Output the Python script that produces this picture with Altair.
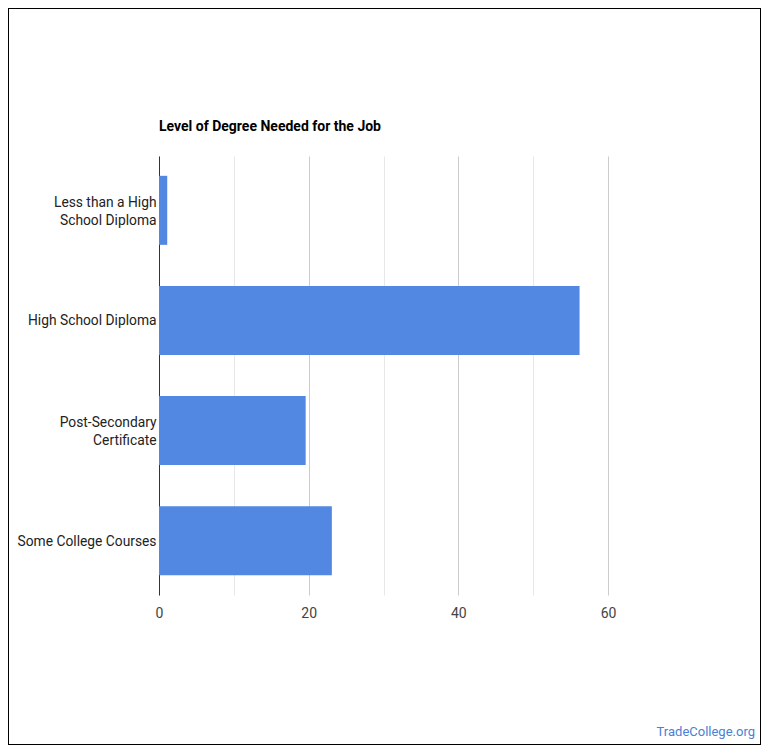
import altair as alt
import pandas as pd

categories = ["Less than a High|School Diploma", "High School Diploma",
              "Post-Secondary|Certificate", "Some College Courses"]
values = [1.1, 56.2, 19.6, 23.1]
grid_ticks = [0, 10, 20, 30, 40, 50, 60]
title_text = "Level of Degree Needed for the Job"
credit_text = "TradeCollege.org"

df = pd.DataFrame({"cat": categories, "val": values})

W, H = 449, 439
PL, PT = 159, 156

bars = alt.Chart(df).mark_bar(color="#5288e2").encode(
    x=alt.X("val:Q", scale=alt.Scale(domain=[0, 60], nice=False),
            axis=alt.Axis(values=grid_ticks, title=None, domain=False, ticks=False,
                          labelExpr="datum.value % 20 == 0 ? datum.label : ''",
                          labelFont="Roboto", labelFontSize=14, labelColor="#444444",
                          labelPadding=11, labelFlush=False,
                          gridColor={"condition": {"test": "datum.value % 20 == 0", "value": "#cccccc"},
                                     "value": "#e8e8e8"})),
    y=alt.Y("cat:N", sort=categories,
            scale=alt.Scale(paddingInner=0.373, paddingOuter=0.18),
            axis=alt.Axis(title=None, ticks=False, domain=True, domainColor="#333333",
                          grid=False, labelFont="Roboto", labelFontSize=13.8,
                          labelColor="#222222", labelPadding=3, labelLimit=200,
                          labelLineHeight=18,
                          labelOffset={"condition": {"test": "indexof(datum.value, '|') >= 0", "value": -7.5},
                                       "value": 1},
                          labelExpr="split(datum.label, '|')")),
)

border = alt.Chart(df).mark_rect(fill=None, stroke="#000000", strokeWidth=1, clip=False).encode(
    x=alt.value(8.5 - PL), x2=alt.value(760.5 - PL),
    y=alt.value(8.5 - PT), y2=alt.value(744.5 - PT),
)

title = alt.Chart(pd.DataFrame({"t": [title_text]})).mark_text(
    align="left", baseline="alphabetic", font="Roboto", fontSize=14, fontWeight="bold",
    color="#000000", clip=False
).encode(text="t:N", x=alt.value(0), y=alt.value(131 - PT))

credit = alt.Chart(pd.DataFrame({"t": [credit_text]})).mark_text(
    align="right", baseline="alphabetic", font="Roboto", fontSize=13, color="#4a80d6", clip=False
).encode(text="t:N", x=alt.value(755 - PL), y=alt.value(736 - PT))

chart = alt.layer(bars, border, title, credit).properties(
    width=W, height=H,
    padding={"left": PL, "top": PT, "right": 770 - PL - W, "bottom": 754 - PT - H},
    autosize=alt.AutoSizeParams(type="none"),
).configure(background="#ffffff", view=alt.ViewConfig(stroke=None))

chart.save("out.html", embed_options={"renderer": "svg", "actions": False})
